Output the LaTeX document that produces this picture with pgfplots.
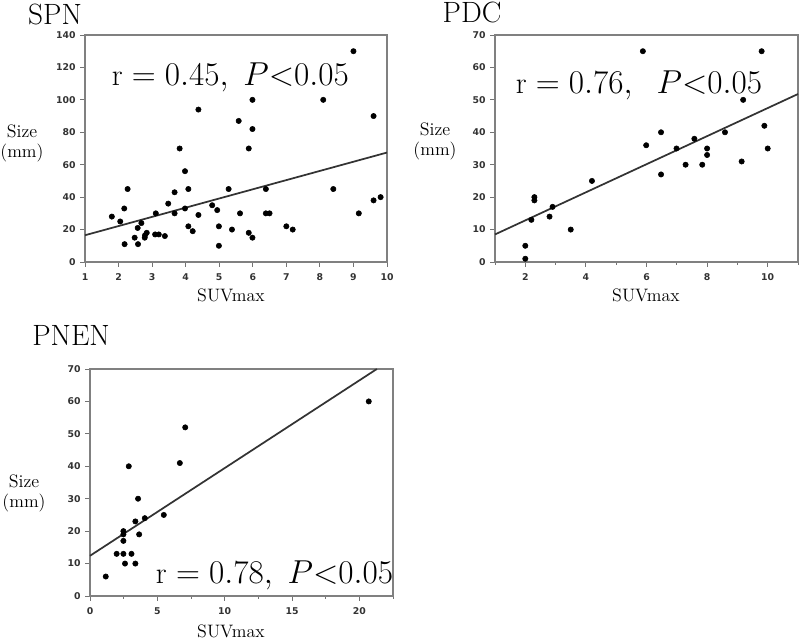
\documentclass[border=0pt]{standalone}
\usepackage{fontspec}
\setsansfont{DejaVu Sans}
\usepackage{pgfplots}
\pgfplotsset{compat=1.18}
\usepackage{pgfplotstable}

% SUVmax vs size, one table per group
\pgfplotstableread{
x y
1.8 28
2.05 25
2.17 33
2.27 45
2.18 11
2.48 15
2.57 21
2.58 11
2.68 24
2.79 16.5
2.78 15
2.84 18
3.11 30
3.09 17
3.2 17
3.38 16
3.48 36
3.67 43
3.67 30
3.82 70
3.98 56
3.98 33
4.08 45
4.08 22
4.21 19
4.38 94
4.38 29
4.79 35
4.94 32
4.99 22
4.99 10
5.28 45
5.38 20
5.58 87
5.62 30
5.88 70
5.88 18
5.99 100
5.99 82
5.99 15
6.39 45
6.39 30
6.5 30
7.0 22
7.19 20
8.1 100
8.4 45
9.0 130
9.16 30
9.6 90
9.6 38
9.81 40
}\spn

\pgfplotstableread{
x y
2.0 5
2.0 1
2.2 13
2.3 20
2.3 19
2.8 14
2.9 17
3.5 10
4.2 25
5.88 65
5.99 36
6.48 40
6.48 27
6.99 35
7.29 30
7.58 38
7.84 30
8.0 35
8.0 33
8.59 40
9.14 31
9.19 50
9.8 65
9.89 42
10.0 35
}\pdc

\pgfplotstableread{
x y
1.17 6
1.98 13
2.48 13
2.48 17
2.48 20
2.48 19
2.6 10
2.88 40
3.08 13
3.37 23
3.37 10
3.57 30
3.65 19
4.07 24
5.48 25
6.67 41
7.07 52
20.7 60
}\pnen

\pgfplotsset{
  panel/.style={
    scale only axis, anchor=south west, clip=false,
    width=226.5pt, height=170.25pt,
    ymin=0, ymax=70, ytick={0,10,...,70},
    axis line style={draw=black!50, line width=0.8pt},
    tick style={draw=black!55, line width=0.7pt},
    tick align=outside, major tick length=3.5pt, minor tick length=2pt,
    xtick pos=bottom, ytick pos=left,
    ticklabel style={font=\sffamily\bfseries\fontsize{7}{9}\selectfont, text=black!80},
    xticklabel style={yshift=-1.5pt},
    /pgf/number format/assume math mode=true,
  },
  dots/.style={only marks, mark=*, mark size=2pt, black},
  fitline/.style={no marks, black!80, line width=1.3pt},
}
\tikzset{rtext/.style={font=\fontsize{23}{27}\selectfont}}

\begin{document}
\begin{tikzpicture}
\path[use as bounding box] (0,0) rectangle (600pt,481.5pt);

% SPN
\begin{axis}[panel, at={(63.75pt,285pt)},
  xmin=1, xmax=10, xtick={1,...,10},
  ymax=140, ytick={0,20,...,140}]
  \addplot[dots] table {\spn};
  \addplot[fitline] coordinates {(1,16.5) (10,67.5)};
  \node[rtext] at (axis cs:5.33,114) {$\mathrm{r} = 0.45,\ P{<}0.05$};
\end{axis}

% PDC
\begin{axis}[panel, at={(371.25pt,285pt)}, width=227.25pt,
  xmin=1, xmax=11, xtick={2,4,...,10}, minor xtick={1,3,...,11}]
  \addplot[dots] table {\pdc};
  \addplot[fitline] coordinates {(1,8.5) (11,51.8)};
  \node[rtext] at (axis cs:5.75,54.5) {$\mathrm{r} = 0.76,\ \ P{<}0.05$};
\end{axis}

% PNEN
\begin{axis}[panel, at={(67.5pt,34.5pt)}, width=227.25pt,
  xmin=0, xmax=22.5, xtick={0,5,...,20}, minor xtick={2.5,7.5,...,22.5}]
  \addplot[dots] table {\pnen};
  \addplot[fitline] coordinates {(0,12.4) (21.3,70)};
  \node[rtext] at (axis cs:13.7,6.5) {$\mathrm{r} = 0.78,\ P{<}0.05$};
\end{axis}

% titles
\node[font=\fontsize{22}{26}\selectfont] at (41.25pt,471pt) {SPN};
\node[font=\fontsize{22}{26}\selectfont] at (354pt,472.5pt) {PDC};
\node[font=\fontsize{22}{26}\selectfont] at (53.25pt,230.25pt) {PNEN};

% axis labels
\node[font=\fontsize{13.5}{15}\selectfont, align=center] at (16.5pt,374.25pt) {Size\\(mm)};
\node[font=\fontsize{13.5}{15}\selectfont, align=center] at (326.25pt,375.75pt) {Size\\(mm)};
\node[font=\fontsize{13.5}{15}\selectfont, align=center] at (18pt,111.75pt) {Size\\(mm)};
\node[font=\fontsize{13.5}{15}\selectfont] at (173.25pt,260.25pt) {SUVmax};
\node[font=\fontsize{13.5}{15}\selectfont] at (484.5pt,260.25pt) {SUVmax};
\node[font=\fontsize{13.5}{15}\selectfont] at (173.25pt,8.25pt) {SUVmax};
\end{tikzpicture}
\end{document}
